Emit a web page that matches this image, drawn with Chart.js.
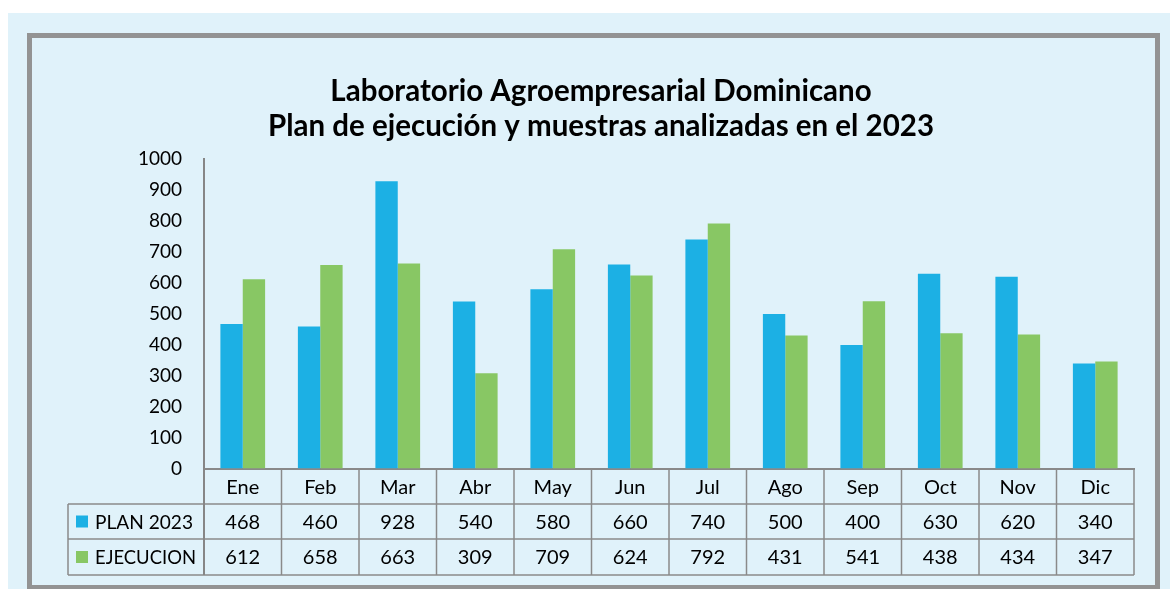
<!DOCTYPE html>
<html>
<head>
<meta charset="utf-8">
<script src="https://cdn.jsdelivr.net/npm/chart.js@4/dist/chart.umd.min.js"></script>
<style>
  html, body { margin: 0; padding: 0; background: #ffffff; }
  #wrap { width: 1170px; height: 589px; position: relative; }
</style>
</head>
<body>
<div id="wrap"><canvas id="c" width="1170" height="589"></canvas></div>
<script>
const months = ['Ene', 'Feb', 'Mar', 'Abr', 'May', 'Jun', 'Jul', 'Ago', 'Sep', 'Oct', 'Nov', 'Dic'];
const planLabel = 'PLAN 2023';
const ejecLabel = 'EJECUCION';
const plan2023 = [468, 460, 928, 540, 580, 660, 740, 500, 400, 630, 620, 340];
const ejecucion = [612, 658, 663, 309, 709, 624, 792, 431, 541, 438, 434, 347];
const titleLines = ['Laboratorio Agroempresarial Dominicano', 'Plan de ejecución y muestras analizadas en el 2023'];
const yMin = 0, yMax = 1000, yStep = 100;

const BLUE = '#1cb0e4';
const GREEN = '#88c764';
const PANEL = '#e0f2fa';
const FRAME = '#939393';
const LINE = '#8a8a8a';
const FONT = 'Lato, "Noto Sans", sans-serif';

const backgroundPlugin = {
  id: 'bgPanel',
  beforeDraw(chart) {
    const ctx = chart.ctx;
    ctx.save();
    ctx.fillStyle = '#ffffff';
    ctx.fillRect(0, 0, chart.width, chart.height);
    ctx.fillStyle = PANEL;
    ctx.fillRect(8, 13, chart.width - 8, chart.height - 13);
    ctx.strokeStyle = FRAME;
    ctx.lineWidth = 5;
    ctx.strokeRect(29.5, 35.5, 1128, 552);
    ctx.restore();
  }
};

const tablePlugin = {
  id: 'dataTable',
  afterDraw(chart) {
    const ctx = chart.ctx;
    const xs = chart.scales.x;
    const area = chart.chartArea;
    const n = months.length;
    const colW = (area.right - area.left) / n;
    const top = area.bottom;
    const r1 = top + 35, r2 = top + 70, r3 = top + 106;
    const legLeft = 68;
    ctx.save();
    ctx.strokeStyle = LINE;
    ctx.lineWidth = 1.5;
    ctx.beginPath();
    ctx.moveTo(area.left, top); ctx.lineTo(area.right, top);
    [r1, r2, r3].forEach(y => { ctx.moveTo(legLeft, y); ctx.lineTo(area.right, y); });
    for (let k = 1; k <= n; k++) {
      const x = area.left + k * colW;
      ctx.moveTo(x, top); ctx.lineTo(x, r3);
    }
    ctx.moveTo(legLeft, r1); ctx.lineTo(legLeft, r3);
    ctx.stroke();
    ctx.strokeStyle = '#868686';
    ctx.lineWidth = 2;
    ctx.beginPath();
    ctx.moveTo(area.left, top); ctx.lineTo(area.left, r3);
    ctx.stroke();

    ctx.fillStyle = '#000000';
    ctx.font = '20px ' + FONT;
    ctx.textAlign = 'center';
    ctx.textBaseline = 'middle';
    for (let i = 0; i < n; i++) {
      const cx = xs.getPixelForValue(i);
      ctx.fillText(months[i], cx, (top + r1) / 2 + 1);
      ctx.fillText(String(plan2023[i]), cx, (r1 + r2) / 2 + 1);
      ctx.fillText(String(ejecucion[i]), cx, (r2 + r3) / 2 + 1);
    }
    ctx.textAlign = 'left';
    ctx.fillStyle = BLUE;
    ctx.fillRect(76, (r1 + r2) / 2 - 6, 12, 12);
    ctx.fillStyle = GREEN;
    ctx.fillRect(76, (r2 + r3) / 2 - 6, 12, 12);
    ctx.fillStyle = '#000000';
    ctx.fillText(planLabel, 95, (r1 + r2) / 2 + 1, 98);
    ctx.fillText(ejecLabel, 95, (r2 + r3) / 2 + 1, 101);
    ctx.restore();
  }
};

new Chart(document.getElementById('c'), {
  type: 'bar',
  data: {
    labels: months,
    datasets: [
      { label: planLabel, data: plan2023, backgroundColor: BLUE, borderWidth: 0,
        categoryPercentage: 0.577, barPercentage: 1.0 },
      { label: ejecLabel, data: ejecucion, backgroundColor: GREEN, borderWidth: 0,
        categoryPercentage: 0.577, barPercentage: 1.0 }
    ]
  },
  options: {
    responsive: false,
    animation: false,
    layout: { padding: { left: 68, right: 36, top: 0, bottom: 0 } },
    plugins: {
      legend: { display: false },
      tooltip: { enabled: false },
      title: {
        display: true,
        text: titleLines,
        color: '#000000',
        font: { family: FONT, size: 29.5, weight: 'bold', lineHeight: 1.19 },
        padding: { top: 74, bottom: 14.8 }
      }
    },
    scales: {
      x: {
        grid: { display: false, drawTicks: false },
        border: { display: true, color: '#868686', width: 2 },
        ticks: { display: false },
        afterFit(scale) { scale.height = 120; }
      },
      y: {
        min: yMin, max: yMax,
        grid: { display: false, drawTicks: false },
        border: { display: true, color: '#868686', width: 2 },
        ticks: { stepSize: yStep, padding: 22, color: '#000000',
                 font: { family: FONT, size: 19 },
                 callback: (v) => String(v) },
        afterFit(scale) { scale.width = 136; }
      }
    }
  },
  plugins: [backgroundPlugin, tablePlugin]
});
</script>
</body>
</html>
